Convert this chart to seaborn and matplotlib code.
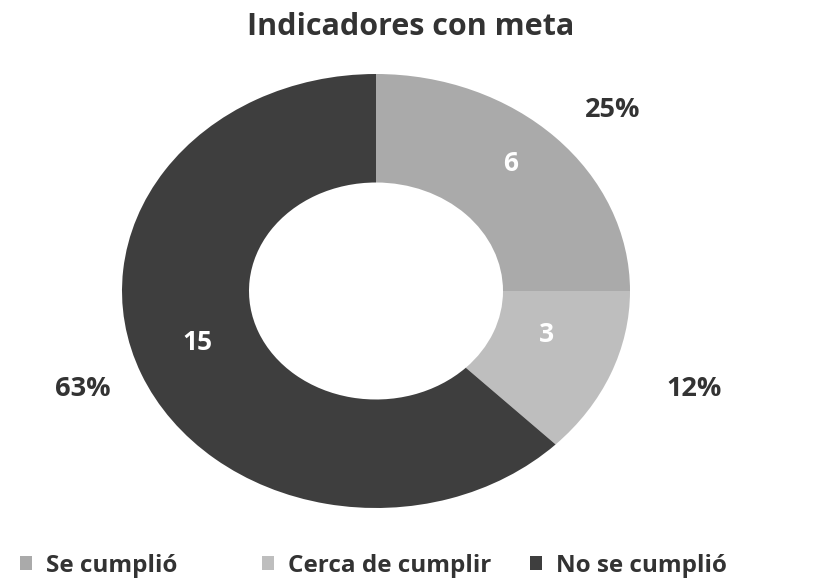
import numpy as np
import matplotlib
matplotlib.use("Agg")
import matplotlib.pyplot as plt
import seaborn as sns
from matplotlib.patches import Patch

categories = ["Se cumplió", "Cerca de cumplir", "No se cumplió"]
values = [6, 3, 15]
pct_labels = ["25%", "12%", "63%"]
colors = ["#aaaaaa", "#bebebe", "#3e3e3e"]
title = "Indicadores con meta"

sns.set_theme(style="white")
plt.rcParams['font.family'] = ['Open Sans', 'DejaVu Sans']

fig = plt.figure(figsize=(8.22, 5.78), dpi=100)
W, H = 822, 578
# axes sized to the (horizontally stretched) donut
ax = fig.add_axes([122 / W, (578 - 508) / H, 508 / W, 434 / H])

wedges, _ = ax.pie(values, colors=colors, startangle=90, counterclock=False,
                   radius=1.0, wedgeprops=dict(width=0.5, edgecolor="none"))
ax.set_aspect('auto')
ax.set_xlim(-1, 1)
ax.set_ylim(-1, 1)
ax.axis('off')

# label placement: radius and angular nudge (degrees) relative to wedge middle
inner_r = [0.79, 0.70, 0.74]
inner_da = [3.0, 5.7, -3.9]
outer_r = [1.25, 1.33, 1.24]
outer_da = [-3.2, 2.6, -1.2]
for w, v, p, ri, dai, ro, dao in zip(wedges, values, pct_labels,
                                     inner_r, inner_da, outer_r, outer_da):
    mid = (w.theta1 + w.theta2) / 2
    a1 = np.deg2rad(mid + dai)
    a2 = np.deg2rad(mid + dao)
    ax.text(ri * np.cos(a1), ri * np.sin(a1), str(v), ha='center', va='center',
            color='white', fontsize=19, fontweight='bold')
    ax.text(ro * np.cos(a2), ro * np.sin(a2), p, ha='center', va='center',
            color='#333333', fontsize=19.5, fontweight='bold', clip_on=False)

fig.text(411 / W, 1 - 27 / H, title, ha='center', va='center', fontsize=22,
         fontweight='bold', color='#333333')

# legend entries placed as in the reference (evenly spread items)
leg_x = [20, 262, 530]
for c, lab, x in zip(colors, categories, leg_x):
    leg = fig.legend([Patch(facecolor=c, edgecolor='none')], [lab], loc='center left',
                     bbox_to_anchor=(x / W, 1 - 566 / H), frameon=False, fontsize=17.5,
                     handlelength=0.5, handleheight=0.5, handletextpad=0.55,
                     borderpad=0, borderaxespad=0)
    for t in leg.get_texts():
        t.set_fontweight('bold')
        t.set_color('#333333')

fig.savefig("out.png", dpi=100)
